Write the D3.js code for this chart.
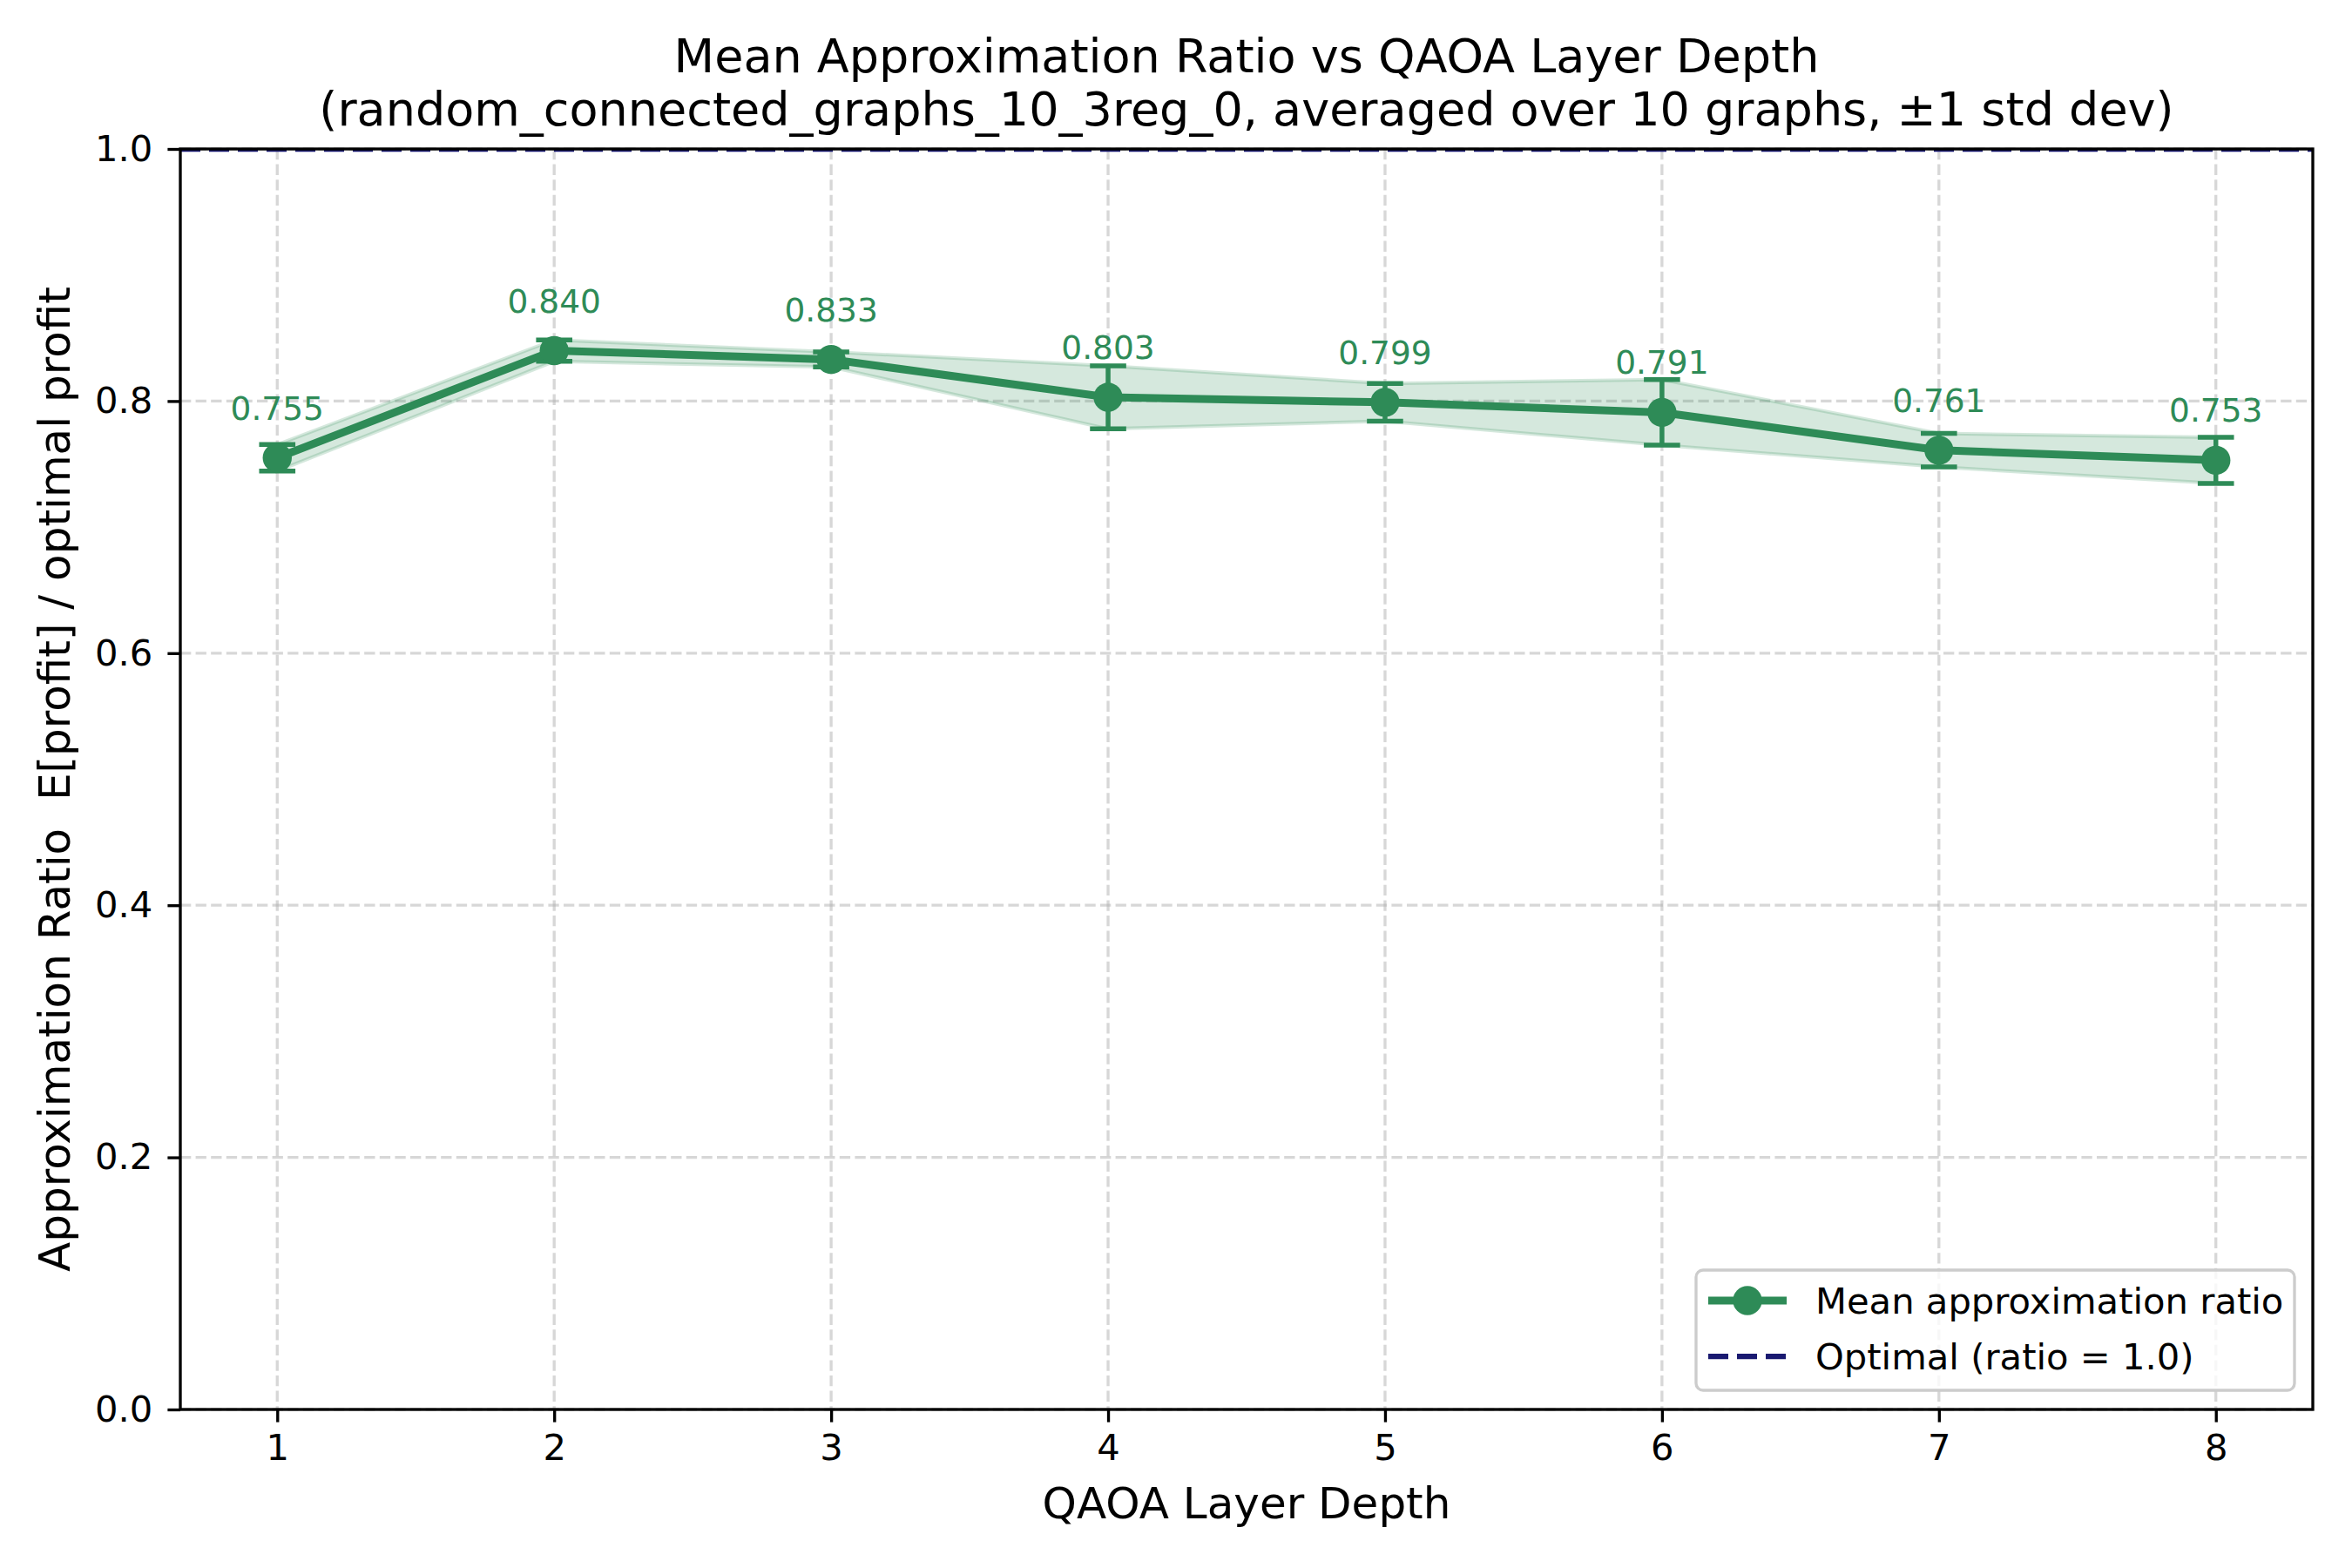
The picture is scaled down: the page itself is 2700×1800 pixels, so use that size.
<!DOCTYPE html>
<html>
<head>
<meta charset="utf-8">
<script src="https://cdn.jsdelivr.net/npm/d3@7"></script>
<style>
  body { margin: 0; background: #fff; }
  text { font-family: "DejaVu Sans", sans-serif; }
</style>
</head>
<body>
<div id="chart"></div>
<script>
// values
const depths = [1, 2, 3, 4, 5, 6, 7, 8];
const meanRatio = [0.755, 0.840, 0.833, 0.803, 0.799, 0.791, 0.761, 0.753];
const stdRatio = [0.0105, 0.0085, 0.006, 0.025, 0.015, 0.026, 0.0133, 0.0183];
const yTicks = [0.0, 0.2, 0.4, 0.6, 0.8, 1.0];
const optimalRatio = 1.0;

const titleLines = [
    "Mean Approximation Ratio vs QAOA Layer Depth",
    "(random_connected_graphs_10_3reg_0, averaged over 10 graphs, \u00b11 std dev)"
];
const legendLabels = ["Mean approximation ratio", "Optimal (ratio = 1.0)"];

const green = "#2e8b57";
const navy = "#191970";

const margin = {top: 171, right: 45, bottom: 182, left: 207},
    width = 2700 - margin.left - margin.right,
    height = 1800 - margin.top - margin.bottom;

const svg = d3.select("#chart")
  .append("svg")
    .attr("width", 2700)
    .attr("height", 1800);

const g = svg.append("g")
    .attr("transform", `translate(${margin.left},${margin.top})`);

g.append("clipPath").attr("id", "plot-clip")
  .append("rect").attr("width", width).attr("height", height);

// matplotlib style 5% x margins
const x = d3.scaleLinear()
    .domain([0.65, 8.35])
    .range([0, width]);

const y = d3.scaleLinear()
    .domain([0, 1])
    .range([height, 0]);

// grid
const gridStyle = sel => sel
    .attr("stroke", "#b0b0b0")
    .attr("stroke-opacity", 0.5)
    .attr("stroke-width", 3.3)
    .attr("stroke-dasharray", "12.3,5.3");

g.append("g").selectAll("line")
    .data(depths)
    .join("line")
    .attr("x1", d => x(d)).attr("x2", d => x(d))
    .attr("y1", 0).attr("y2", height)
    .call(gridStyle);

g.append("g").selectAll("line")
    .data(yTicks)
    .join("line")
    .attr("x1", 0).attr("x2", width)
    .attr("y1", d => y(d)).attr("y2", d => y(d))
    .call(gridStyle);

const pts = depths.map((d, i) => ({d: d, m: meanRatio[i], s: stdRatio[i]}));

// +-1 std band
const band = d3.area()
    .x(p => x(p.d))
    .y0(p => y(p.m - p.s))
    .y1(p => y(p.m + p.s));

g.append("path")
    .datum(pts)
    .attr("d", band)
    .attr("fill", green)
    .attr("fill-opacity", 0.2)
    .attr("stroke", green)
    .attr("stroke-opacity", 0.2)
    .attr("stroke-width", 4);

// optimal line, half hidden by the top spine
g.append("line")
    .attr("clip-path", "url(#plot-clip)")
    .attr("x1", 0).attr("x2", width)
    .attr("y1", y(optimalRatio)).attr("y2", y(optimalRatio))
    .attr("stroke", navy)
    .attr("stroke-width", 6.25)
    .attr("stroke-dasharray", "23,10");

// error bars
const capHalf = 20.8;
const errs = g.append("g")
    .attr("stroke", green)
    .attr("stroke-width", 5.5);

errs.selectAll("line.bar")
    .data(pts)
    .join("line")
    .attr("class", "bar")
    .attr("x1", p => x(p.d)).attr("x2", p => x(p.d))
    .attr("y1", p => y(p.m - p.s)).attr("y2", p => y(p.m + p.s));

errs.selectAll("line.capTop")
    .data(pts)
    .join("line")
    .attr("class", "capTop")
    .attr("x1", p => x(p.d) - capHalf).attr("x2", p => x(p.d) + capHalf)
    .attr("y1", p => y(p.m + p.s)).attr("y2", p => y(p.m + p.s));

errs.selectAll("line.capBot")
    .data(pts)
    .join("line")
    .attr("class", "capBot")
    .attr("x1", p => x(p.d) - capHalf).attr("x2", p => x(p.d) + capHalf)
    .attr("y1", p => y(p.m - p.s)).attr("y2", p => y(p.m - p.s));

// mean line + markers
g.append("path")
    .datum(pts)
    .attr("d", d3.line().x(p => x(p.d)).y(p => y(p.m)))
    .attr("fill", "none")
    .attr("stroke", green)
    .attr("stroke-width", 9)
    .attr("stroke-linejoin", "round");

g.append("g").selectAll("circle")
    .data(pts)
    .join("circle")
    .attr("cx", p => x(p.d))
    .attr("cy", p => y(p.m))
    .attr("r", 16.7)
    .attr("fill", green);

// value labels
g.append("g").selectAll("text")
    .data(pts)
    .join("text")
    .attr("x", p => x(p.d))
    .attr("y", p => y(p.m) - 44)
    .attr("text-anchor", "middle")
    .attr("font-size", 37.5)
    .attr("fill", green)
    .text(p => p.m.toFixed(3));

// axes
const xAxis = g.append("g")
    .attr("transform", `translate(0,${height})`)
    .call(d3.axisBottom(x).tickValues(depths).tickFormat(d3.format("d"))
        .tickSize(14.6).tickPadding(14));

const yAxis = g.append("g")
    .call(d3.axisLeft(y).tickValues(yTicks).tickFormat(d3.format(".1f"))
        .tickSize(14.6).tickPadding(17));

[xAxis, yAxis].forEach(ax => {
    ax.select(".domain").remove();
    ax.selectAll(".tick line").attr("stroke", "#000").attr("stroke-width", 3.33);
    ax.selectAll(".tick text")
        .attr("font-size", 41.7)
        .attr("fill", "#000")
        .style("font-family", "DejaVu Sans");
});

// spines
g.append("rect")
    .attr("width", width)
    .attr("height", height)
    .attr("fill", "none")
    .attr("stroke", "#000")
    .attr("stroke-width", 3.33);

// legend
const leg = g.append("g")
    .attr("transform", `translate(${1947 - margin.left},${1458 - margin.top})`);

leg.append("rect")
    .attr("width", 687)
    .attr("height", 138)
    .attr("rx", 8)
    .attr("fill", "#fff")
    .attr("fill-opacity", 0.8)
    .attr("stroke", "#cccccc")
    .attr("stroke-width", 3.33);

leg.append("line")
    .attr("x1", 14).attr("x2", 104)
    .attr("y1", 35).attr("y2", 35)
    .attr("stroke", green).attr("stroke-width", 9);
leg.append("circle")
    .attr("cx", 59).attr("cy", 35).attr("r", 16.7)
    .attr("fill", green);

leg.append("line")
    .attr("x1", 14).attr("x2", 104)
    .attr("y1", 99).attr("y2", 99)
    .attr("stroke", navy).attr("stroke-width", 6.25)
    .attr("stroke-dasharray", "23,10");

leg.selectAll("text.lab")
    .data(legendLabels)
    .join("text")
    .attr("class", "lab")
    .attr("x", 137)
    .attr("y", (d, i) => 50 + i * 64)
    .attr("font-size", 41.7)
    .attr("fill", "#000")
    .text(d => d);

// titles and axis labels
svg.selectAll("text.title")
    .data(titleLines)
    .join("text")
    .attr("class", "title")
    .attr("x", margin.left + width / 2)
    .attr("y", (d, i) => 83 + i * 61)
    .attr("text-anchor", "middle")
    .attr("font-size", 54)
    .attr("fill", "#000")
    .text(d => d);

svg.append("text")
    .attr("x", margin.left + width / 2)
    .attr("y", 1743)
    .attr("text-anchor", "middle")
    .attr("font-size", 50)
    .attr("fill", "#000")
    .text("QAOA Layer Depth");

svg.append("text")
    .attr("transform", `translate(80,${margin.top + height / 2}) rotate(-90)`)
    .attr("text-anchor", "middle")
    .attr("font-size", 50)
    .attr("fill", "#000")
    .attr("xml:space", "preserve")
    .style("white-space", "pre")
    .text("Approximation Ratio  E[profit] / optimal profit");
</script>
</body>
</html>
